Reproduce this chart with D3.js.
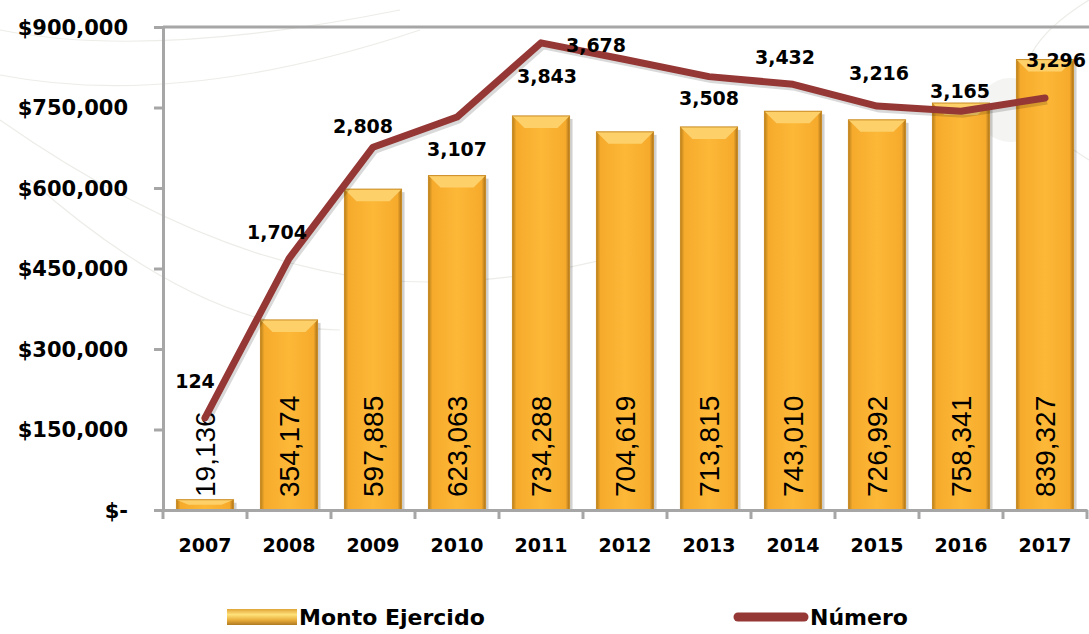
<!DOCTYPE html>
<html>
<head>
<meta charset="utf-8">
<script src="https://cdn.jsdelivr.net/npm/d3@7"></script>
<style>
  body { margin: 0; background: #fff; }
  svg { display: block; }
  .axis-lbl { font-family: "DejaVu Sans", sans-serif; font-weight: bold; fill: #000; }
</style>
</head>
<body>
<div id="chart"></div>
<script>
// data
var years = ["2007","2008","2009","2010","2011","2012","2013","2014","2015","2016","2017"];
var monto = [19136, 354174, 597885, 623063, 734288, 704619, 713815, 743010, 726992, 758341, 839327];
var numero = [124, 1704, 2808, 3107, 3843, 3678, 3508, 3432, 3216, 3165, 3296];
var yTicks = [0, 150000, 300000, 450000, 600000, 750000, 900000];
var seriesNames = ["Monto Ejercido", "Número"];

var width = 1089,
	height = 634
var margin = {top: 27, left: 163, right: 2, bottom: 124};

var svg = d3.select("#chart").append("svg")
	.attr("width", width)
	.attr("height", height);

var defs = svg.append("defs");
var grad = defs.append("linearGradient").attr("id", "barGrad").attr("x1", 0).attr("x2", 1).attr("y1", 0).attr("y2", 0);
grad.append("stop").attr("offset", "0").attr("stop-color", "#b8801c");
grad.append("stop").attr("offset", "0.07").attr("stop-color", "#f6aa2c");
grad.append("stop").attr("offset", "0.5").attr("stop-color", "#fdb838");
grad.append("stop").attr("offset", "0.93").attr("stop-color", "#f6aa2c");
grad.append("stop").attr("offset", "1").attr("stop-color", "#a8721a");

var legGrad = defs.append("linearGradient").attr("id", "legGrad").attr("x1", 0).attr("x2", 0).attr("y1", 0).attr("y2", 1);
legGrad.append("stop").attr("offset", "0").attr("stop-color", "#e0a437");
legGrad.append("stop").attr("offset", "0.35").attr("stop-color", "#ffe27a");
legGrad.append("stop").attr("offset", "0.7").attr("stop-color", "#e8ad3a");
legGrad.append("stop").attr("offset", "1").attr("stop-color", "#b07a22");

// faint watermark arcs in the background
var wm = svg.append("g").attr("fill", "none").attr("stroke", "#ecece8").attr("stroke-width", 1.2);
wm.append("path").attr("d", "M0,30 Q150,60 400,10");
wm.append("path").attr("d", "M0,75 Q180,110 420,30");
wm.append("path").attr("d", "M0,120 Q200,260 380,280 Q500,290 640,250");
wm.append("path").attr("d", "M30,180 Q200,330 340,330");
wm.append("path").attr("d", "M1089,0 Q960,80 1089,160");
wm.append("circle").attr("cx", 1010).attr("cy", 110).attr("r", 32).attr("fill", "#f4f4f2").attr("stroke", "none");

var x = d3.scaleBand()
	.domain(years)
	.range([margin.left, width - margin.right])
	.paddingInner(0.32)
	.paddingOuter(0.16);

var y = d3.scaleLinear()
	.domain([0, 900000])
	.range([height - margin.bottom, margin.top]);

// hidden secondary axis for Número
var y2 = d3.scaleLinear()
	.domain([-790, 4000])
	.range([height - margin.bottom, margin.top]);

var x0 = margin.left, yBase = y(0);

// top border
svg.append("line")
	.attr("x1", x0).attr("x2", width)
	.attr("y1", y(900000)).attr("y2", y(900000))
	.attr("stroke", "#a6a6a6").attr("stroke-width", 3);

// bars
var bars = svg.append("g");
years.forEach(function(yr, i){
	var bx = x(yr), bw = x.bandwidth(), by = y(monto[i]), bh = yBase - by;
	bars.append("rect")
		.attr("x", bx + 3).attr("y", by + 3)
		.attr("width", bw).attr("height", bh - 3)
		.attr("fill", "#000").attr("opacity", 0.18);
	bars.append("rect")
		.attr("x", bx).attr("y", by)
		.attr("width", bw).attr("height", bh)
		.attr("fill", "url(#barGrad)");
	var bev = Math.min(12, bh / 2);
	bars.append("path")
		.attr("d", "M" + bx + "," + by + "L" + (bx + bw) + "," + by + "L" + (bx + bw - 12) + "," + (by + bev) + "L" + (bx + 12) + "," + (by + bev) + "Z")
		.attr("fill", "#fdd06a");
	bars.append("rect")
		.attr("x", bx).attr("y", by)
		.attr("width", bw).attr("height", bh)
		.attr("fill", "none").attr("stroke", "#c98b22").attr("stroke-width", 1);
});

// axes
var yAxis = svg.append("g")
	.attr("transform", "translate(" + x0 + ",0)")
	.call(d3.axisLeft(y).tickValues(yTicks).tickSize(9).tickPadding(26)
		.tickFormat(function(d){ return d === 0 ? "$-" : "$" + d3.format(",")(d); }));
yAxis.select(".domain").attr("stroke", "#a6a6a6").attr("stroke-width", 3);
yAxis.selectAll(".tick line").attr("stroke", "#a6a6a6").attr("stroke-width", 3);
yAxis.selectAll(".tick text").attr("class", "axis-lbl").style("font-size", "21px").attr("dy", "0.35em");

var xAxis = svg.append("g")
	.attr("transform", "translate(0," + yBase + ")")
	.call(d3.axisBottom(x).tickSize(0).tickPadding(29));
xAxis.select(".domain").attr("stroke", "#a6a6a6").attr("stroke-width", 3);
xAxis.selectAll(".tick text").attr("class", "axis-lbl").style("font-size", "19px");
// category boundary ticks
var step = x.step();
svg.append("g").selectAll("line")
	.data(d3.range(years.length + 1))
	.enter().append("line")
	.attr("x1", function(i){ return x0 + i * step; })
	.attr("x2", function(i){ return x0 + i * step; })
	.attr("y1", yBase).attr("y2", yBase + 9)
	.attr("stroke", "#a6a6a6").attr("stroke-width", 3);

// value labels inside bars (rotated)
svg.append("g").selectAll("text")
	.data(years)
	.enter().append("text")
	.attr("transform", function(d){ return "translate(" + (x(d) + x.bandwidth() / 2 + 10) + "," + (yBase - 13) + ") rotate(-90)"; })
	.attr("text-anchor", "start")
	.style("font-family", "'Liberation Sans', Arial, sans-serif")
	.style("font-size", "28px")
	.attr("fill", "#000")
	.text(function(d, i){ return d3.format(",")(monto[i]); });

// Número line
var line = d3.line()
	.x(function(d, i){ return x(years[i]) + x.bandwidth() / 2; })
	.y(function(d){ return y2(d); });

svg.append("path")
	.datum(numero)
	.attr("d", line)
	.attr("transform", "translate(2,3)")
	.attr("fill", "none")
	.attr("stroke", "#000").attr("stroke-opacity", 0.15)
	.attr("stroke-width", 7);
svg.append("path")
	.datum(numero)
	.attr("d", line)
	.attr("fill", "none")
	.attr("stroke", "#953735")
	.attr("stroke-width", 7)
	.attr("stroke-linejoin", "round")
	.attr("stroke-linecap", "round");

// line labels; offsets from the point so they sit as in the original
var lblOff = [[-10,-36],[-12,-26],[-10,-21],[0,32],[6,34],[-29,-14],[0,22],[-8,-27],[2,-33],[-1,-20],[11,-38]];
svg.append("g").selectAll("text")
	.data(numero)
	.enter().append("text")
	.attr("x", function(d, i){ return x(years[i]) + x.bandwidth() / 2 + lblOff[i][0]; })
	.attr("y", function(d, i){ return y2(d) + lblOff[i][1]; })
	.attr("dy", "0.35em")
	.attr("text-anchor", "middle")
	.attr("class", "axis-lbl")
	.style("font-size", "19px")
	.text(function(d){ return d3.format(",")(d); });

// legend
var leg = svg.append("g").attr("transform", "translate(0,617)");
leg.append("rect")
	.attr("x", 227).attr("y", -8).attr("width", 70).attr("height", 16)
	.attr("fill", "url(#legGrad)");
leg.append("text")
	.attr("x", 299).attr("y", 0).attr("dy", "0.35em")
	.attr("class", "axis-lbl").style("font-size", "22px")
	.text(seriesNames[0]);
leg.append("line")
	.attr("x1", 738).attr("x2", 804).attr("y1", 0).attr("y2", 0)
	.attr("stroke", "#953735").attr("stroke-width", 9).attr("stroke-linecap", "round");
leg.append("text")
	.attr("x", 810).attr("y", 0).attr("dy", "0.35em")
	.attr("class", "axis-lbl").style("font-size", "22px")
	.text(seriesNames[1]);
</script>
</body>
</html>
